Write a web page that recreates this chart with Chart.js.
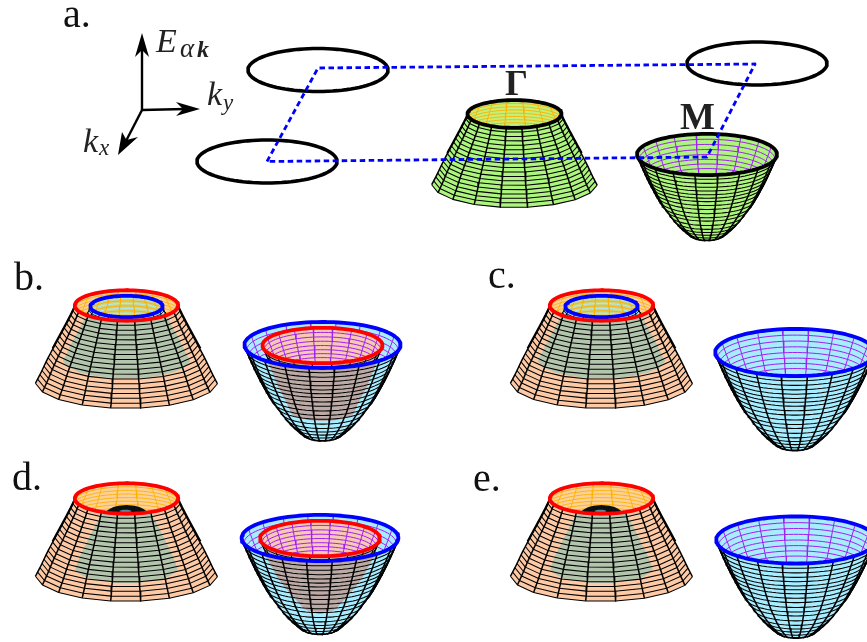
<!DOCTYPE html>
<html>
<head>
<meta charset="utf-8">
<style>
  html, body { margin: 0; padding: 0; background: #fff; }
  #bandas { display: block; }
</style>
<script src="https://cdn.jsdelivr.net/npm/chart.js@4"></script>
</head>
<body>
<canvas id="bandas" width="867" height="642"></canvas>
<script>
// Rings of the two band surfaces (pixels below the rim, radius)
const domeDepth = [0, 3.8, 7.7, 11.5, 15.3, 19.2, 23, 26.8, 30.7, 34.5, 38.3, 42.2, 46, 49.8, 53.7, 57.5, 61.3, 65.2, 69];
const domeRadius = [47, 48.8, 50.7, 52.7, 54.7, 56.8, 58.9, 61, 63.1, 65.2, 67.3, 69.4, 71.4, 73.3, 75.2, 77, 78.9, 81, 83];
const bowlDepth = [0, 4.8, 9.4, 13.9, 18.3, 22.6, 26.6, 30.6, 35.3, 39.9, 45, 49.9, 54.4, 59.9, 65, 69.4, 73.3, 77.3, 80.6, 82.5];
const bowlRadius = [70, 68, 66, 64, 62, 60, 58, 56, 53.5, 51, 48, 45, 41.5, 37.5, 33.5, 29.5, 25.5, 21, 17, 13];

// Shaded shapes seen through the outer surfaces
const hiddenDomeDepth = [0, 0.7, 2, 4, 6, 10, 20, 30, 40, 50, 63];
const hiddenDomeRadius = [0, 8, 13, 17, 20, 25, 31, 36, 41, 46, 51];
const hiddenBowlDepthB = [0, 20, 40, 55, 66];
const hiddenBowlRadiusB = [60, 53, 45, 37, 32];
const hiddenBowlDepthD = [0, 20, 40, 55, 68];
const hiddenBowlRadiusD = [60, 53, 42, 30, 18];

// One entry per panel a..e
const panelLabels = ['a.', 'b.', 'c.', 'd.', 'e.'];
const labelX = [63, 14, 488, 12, 473];
const labelY = [27, 290, 288, 490, 491];
const domeX = [514.5, 126.5, 601.5, 126.5, 601.5];
const domeY = [114, 305.5, 305.5, 498.5, 498.5];
const domeScale = [1, 1.1, 1.1, 1.1, 1.1];
const bowlX = [707, 322.5, 795, 320, 796];
const bowlY = [154.5, 345, 352.5, 538, 540];
const bowlScale = [1, 1.115, 1.14, 1.12, 1.14];
const domeKind = ['plain', 'ring', 'ring', 'bump', 'bump'];
const bowlKind = ['plain', 'inner', 'blue', 'inner', 'blue'];

// Brillouin zone of panel a
const zoneX = [267, 318, 755, 707, 267];
const zoneY = [161.5, 68, 64, 157, 161.5];
const pocketX = [267, 318, 757];
const pocketY = [161.5, 70, 63.5];

// Axes arrows of panel a
const shaftX = [[142, 142], [142, 185], [142, 126]];
const shaftY = [[110, 50], [110, 109], [110, 141]];
const headX = [[142, 135, 142, 149], [200, 176, 183, 176], [118, 138, 126.5, 122]];
const headY = [[33, 57, 50, 57], [109, 102, 109, 116], [155, 137, 140, 132]];

const colores = {
    verde: '#aef57f', durazno: '#fdcaa5', cian: '#a8ecff', salvia: '#b3c6ad', cafe: '#bcaaa6',
    naranja: '#ffb000', morado: '#a020f0', rojo: '#ff0000', azul: '#0000ff', negro: '#000000',
    tapaVerde: '#c2f078', tapaDurazno: '#fdd29a', tapaOliva: '#cdd584', rosa: '#f8c8b4'
};

const aspecto = 0.295;
const meridianos = [5, 24, 43, 62, 81, 100, 119, 138, 157, 176];
const meridianosAtras = [185, 204, 223, 242, 261, 280, 299, 318, 337, 356];
const corte = { x: NaN, y: NaN };

let datasets = [];

function agregar(data, opciones) {
    datasets.push(Object.assign({
        data: data,
        showLine: true,
        pointRadius: 0,
        borderWidth: 0,
        borderColor: 'rgba(0,0,0,0)',
        backgroundColor: 'rgba(0,0,0,0)',
        borderJoinStyle: 'round',
        fill: false,
        tension: 0
    }, opciones));
}

function superficie(cx, cy, escala, prof, radio, facetada) {
    return { cx: cx, cy: cy, escala: escala, prof: prof, radio: radio, facetada: facetada };
}

function punto(s, i, ang) {
    const r = s.radio[i] * s.escala;
    const a = ang * Math.PI / 180;
    return { x: s.cx + r * Math.cos(a), y: s.cy + s.prof[i] * s.escala + aspecto * r * Math.sin(a) };
}

function arco(s, i, desde, hasta) {
    let pts = [];
    for (let a = desde; a <= hasta; a += 4) pts.push(punto(s, i, a));
    return pts;
}

// the dome rows are straight between two meridians, the bowl rows are round
function fila(s, i) {
    return s.facetada ? meridianos.map(a => punto(s, i, a)) : arco(s, i, 0, 180);
}

function meridiano(s, ang) {
    return s.radio.map((_, i) => punto(s, i, ang));
}

// silhouette: down the left side, along the last row, up the right side
function contorno(s) {
    let izq = meridiano(s, s.facetada ? 176 : 180);
    let der = meridiano(s, s.facetada ? 5 : 0).reverse();
    return izq.concat(fila(s, s.radio.length - 1).reverse()).concat(der);
}

function borde(s) {
    return { cx: s.cx, cy: s.cy, rx: s.radio[0] * s.escala, ry: s.radio[0] * s.escala * aspecto };
}

function valorElipse(p, e) {
    return ((p.x - e.cx) / e.rx) ** 2 + ((p.y - e.cy) / e.ry) ** 2;
}

function proyectar(p, e) {
    const v = valorElipse(p, e);
    if (v <= 1) return p;
    const k = 1 / Math.sqrt(v);
    return { x: e.cx + (p.x - e.cx) * k, y: e.cy + (p.y - e.cy) * k };
}

// keep the part of each polyline inside the ellipse, ending exactly on its edge
function recortar(lineas, e) {
    let out = [];
    lineas.forEach(function (l) {
        l.forEach(function (p, i) {
            const dentro = valorElipse(p, e) <= 1;
            const vecino = (i > 0 && valorElipse(l[i - 1], e) <= 1) || (i < l.length - 1 && valorElipse(l[i + 1], e) <= 1);
            if (dentro || vecino) out.push(proyectar(p, e));
            else if (out.length && !isNaN(out[out.length - 1].x)) out.push(corte);
        });
        out.push(corte);
    });
    return out;
}

function unir(lineas) {
    let out = [];
    lineas.forEach(function (l) { out = out.concat(l); out.push(corte); });
    return out;
}

function filas(s) {
    return s.radio.map((_, i) => arco(s, i, 0, 180));
}

function filasAtras(s) {
    return s.radio.map((_, i) => arco(s, i, 180, 360));
}

function elipse(e) {
    let pts = [];
    for (let a = 270; a <= 634; a += 4) {
        const t = a * Math.PI / 180;
        pts.push({ x: e.cx + e.rx * Math.cos(t), y: e.cy + e.ry * Math.sin(t) });
    }
    return pts;
}

function relleno(pts, color) {
    agregar(pts, { fill: 'shape', backgroundColor: color });
}

function trazo(pts, color, ancho, extra) {
    agregar(pts, Object.assign({ borderColor: color, borderWidth: ancho }, extra || {}));
}

function malla(s, color) {
    trazo(unir(s.radio.map((_, i) => fila(s, i))), color, 1.05);
    trazo(unir(meridianos.map(a => meridiano(s, a))), color, 1.5);
    // the sides look heavier near the rim, where the meridians bunch up
    const alto = Math.round(s.radio.length * 0.6);
    trazo(unir([meridiano(s, 178).slice(0, alto), meridiano(s, 2).slice(0, alto)]), color, 2);
}

function dibujarDomo(i) {
    const tipo = domeKind[i];
    const s = superficie(domeX[i], domeY[i], domeScale[i], domeDepth, domeRadius, true);
    const e = borde(s);
    relleno(contorno(s), tipo === 'plain' ? colores.verde : colores.durazno);

    const interior = superficie(s.cx, s.cy + 1, 0.77, domeDepth, domeRadius, true);
    const oculto = superficie(s.cx, s.cy + 6.5, 1, hiddenDomeDepth, hiddenDomeRadius, false);
    if (tipo === 'ring') relleno(contorno(interior), colores.salvia);
    if (tipo === 'bump') relleno(contorno(oculto), colores.salvia);
    malla(s, colores.negro);

    // opening of the outer surface, showing its far wall
    relleno(elipse(e), tipo === 'plain' ? colores.tapaVerde : colores.tapaDurazno);
    const atras = recortar(filasAtras(s).concat(meridianosAtras.map(a => meridiano(s, a))), e);
    trazo(atras, colores.naranja, 0.9);

    if (tipo === 'ring') {
        const ei = borde(interior);
        relleno(contorno(interior).map(p => proyectar(p, e)), colores.cian);
        trazo(recortar(filas(interior).concat(meridianos.map(a => meridiano(interior, a))), e), colores.negro, 1);
        relleno(elipse(ei), colores.tapaOliva);
        trazo(recortar(filasAtras(interior).filter((_, k) => k % 2 === 1), ei), colores.cian, 1);
        trazo(recortar(filasAtras(interior).filter((_, k) => k % 2 === 0).concat(meridianosAtras.map(a => meridiano(interior, a))), ei), colores.naranja, 1);
        trazo(elipse(ei), colores.azul, 3.8);
    }
    if (tipo === 'bump') {
        const tope = superficie(s.cx, s.cy + 6.5, 1, hiddenDomeDepth.slice(0, 5), hiddenDomeRadius.slice(0, 5), false);
        relleno(contorno(tope).map(p => proyectar(p, e)), '#0a0f12');
        relleno(elipse({ cx: s.cx - 1, cy: s.cy + 12.5, rx: 6, ry: 1.3 }), '#5b8793');
    }
    trazo(elipse(e), tipo === 'plain' ? colores.negro : colores.rojo, 3.8);
}

function dibujarCuenco(i) {
    const tipo = bowlKind[i];
    const s = superficie(bowlX[i], bowlY[i], bowlScale[i], bowlDepth, bowlRadius, false);
    const e = borde(s);
    const base = tipo === 'plain' ? colores.verde : colores.cian;
    relleno(contorno(s), base);

    const prof = i === 1 ? hiddenBowlDepthB : hiddenBowlDepthD;
    const rad = i === 1 ? hiddenBowlRadiusB : hiddenBowlRadiusD;
    const oculto = superficie(s.cx, s.cy + 0.5, 1, prof, rad, false);
    if (tipo === 'inner') relleno(contorno(oculto), colores.cafe);
    malla(s, colores.negro);

    relleno(elipse(e), base);
    const moradas = recortar(filasAtras(s).concat(meridianosAtras.map(a => meridiano(s, a))), e);
    trazo(moradas, colores.morado, 1);

    if (tipo === 'inner') {
        const interior = superficie(s.cx, s.cy + 0.5, 60 / 70, bowlDepth, bowlRadius, false);
        const ei = borde(interior);
        relleno(contorno(interior).map(p => proyectar(p, e)), colores.cafe);
        trazo(recortar(filas(interior).concat(meridianos.map(a => meridiano(interior, a))), e), colores.negro, 1);
        relleno(elipse(ei), colores.rosa);
        trazo(recortar(filasAtras(interior).concat(meridianosAtras.map(a => meridiano(interior, a))), ei), colores.morado, 1);
        trazo(elipse(ei), colores.rojo, 3.8);
    }
    trazo(elipse(e), tipo === 'plain' ? colores.negro : colores.azul, 3.8);
}

// pockets and arrows first, surfaces next, dashed zone on top of the surfaces
pocketX.forEach(function (x, i) {
    trazo(elipse({ cx: x, cy: pocketY[i], rx: 70, ry: 21.5 }), colores.negro, 3.6);
});
panelLabels.forEach(function (_, i) {
    dibujarDomo(i);
    dibujarCuenco(i);
});
trazo(zoneX.map((x, i) => ({ x: x, y: zoneY[i] })), colores.azul, 2.8, { borderDash: [5.5, 3.5] });

shaftX.forEach(function (xs, i) {
    trazo(xs.map((x, k) => ({ x: x, y: shaftY[i][k] })), colores.negro, 2.4);
    relleno(headX[i].map((x, k) => ({ x: x, y: headY[i][k] })), colores.negro);
});

const textos = panelLabels.map((t, i) => ({ t: t, x: labelX[i], y: labelY[i], f: '40px "Liberation Serif"', c: '#111' })).concat([
    { t: 'Γ', x: 505, y: 95, f: 'bold 36px "Liberation Serif"', c: '#222' },
    { t: 'M', x: 680, y: 129, f: 'bold 37px "Liberation Serif"', c: '#222' },
    { t: 'E', x: 156, y: 52, f: 'italic 34px "Liberation Serif"', c: '#222' },
    { t: 'α', x: 180, y: 57, f: 'italic 27px "Liberation Serif"', c: '#222' },
    { t: 'k', x: 197, y: 57, f: 'italic bold 24px "Liberation Serif"', c: '#222' },
    { t: 'k', x: 207, y: 105, f: 'italic 34px "Liberation Serif"', c: '#222' },
    { t: 'y', x: 223, y: 110, f: 'italic 23px "Liberation Serif"', c: '#222' },
    { t: 'k', x: 83, y: 152, f: 'italic 34px "Liberation Serif"', c: '#222' },
    { t: 'x', x: 99, y: 155, f: 'italic 23px "Liberation Serif"', c: '#222' }
]);

const pluginTextos = {
    id: 'textos',
    afterDatasetsDraw(chart) {
        const ctx = chart.ctx;
        ctx.save();
        ctx.textBaseline = 'alphabetic';
        textos.forEach(function (t) {
            ctx.font = t.f;
            ctx.fillStyle = t.c;
            ctx.fillText(t.t, chart.scales.x.getPixelForValue(t.x), chart.scales.y.getPixelForValue(t.y));
        });
        ctx.restore();
    }
};

new Chart(document.getElementById('bandas'), {
    type: 'scatter',
    data: { datasets: datasets.reverse() },
    plugins: [pluginTextos],
    options: {
        responsive: false,
        animation: false,
        events: [],
        layout: { padding: 0 },
        scales: {
            x: { type: 'linear', min: 0, max: 867, display: false },
            y: { type: 'linear', min: 0, max: 642, reverse: true, display: false }
        },
        plugins: { legend: { display: false }, tooltip: { enabled: false } }
    }
});
</script>
</body>
</html>
